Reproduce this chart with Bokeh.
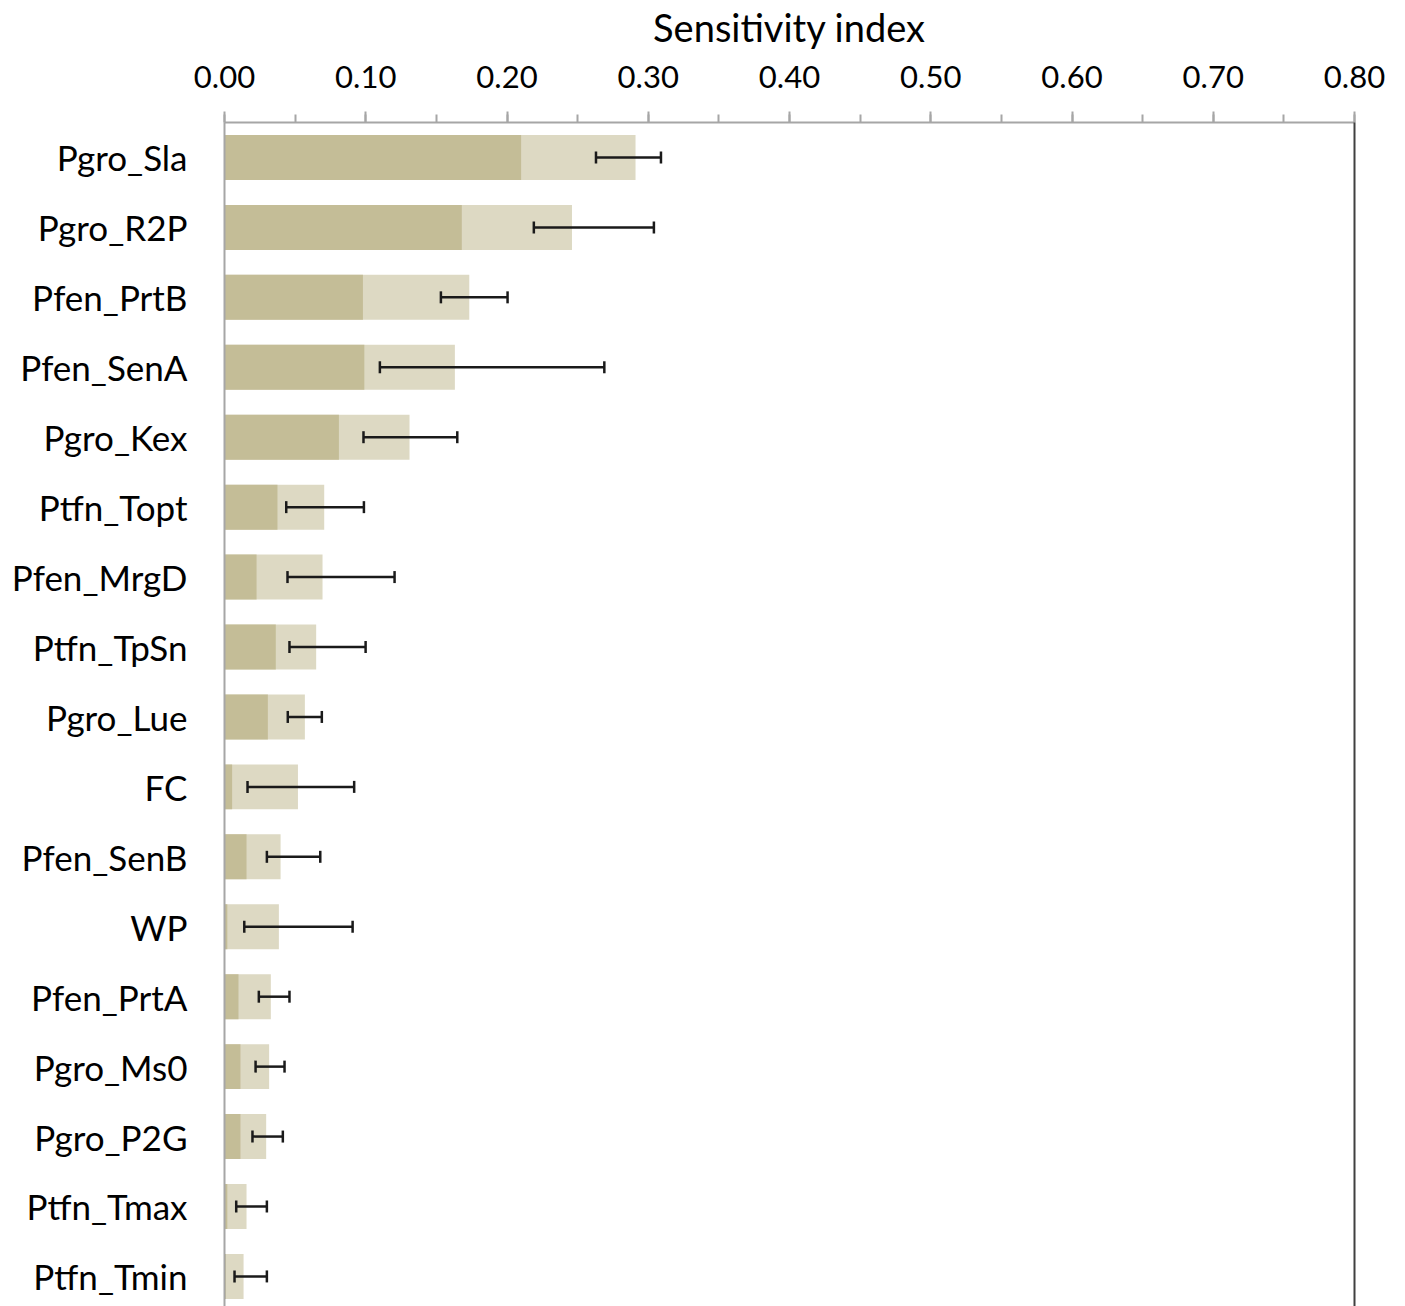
from bokeh.plotting import figure
from bokeh.models import (Range1d, FixedTicker, SingleIntervalTicker, NumeralTickFormatter,
                          LinearAxis, Whisker, TeeHead, ColumnDataSource)
from bokeh.embed import file_html
from bokeh.resources import INLINE

params = ["Pgro_Sla", "Pgro_R2P", "Pfen_PrtB", "Pfen_SenA", "Pgro_Kex", "Ptfn_Topt",
          "Pfen_MrgD", "Ptfn_TpSn", "Pgro_Lue", "FC", "Pfen_SenB", "WP", "Pfen_PrtA",
          "Pgro_Ms0", "Pgro_P2G", "Ptfn_Tmax", "Ptfn_Tmin"]
first_order = [0.210, 0.168, 0.098, 0.099, 0.081, 0.0375, 0.0227, 0.0363, 0.0307, 0.0054,
               0.0156, 0.002, 0.0099, 0.0113, 0.0113, 0.002, 0.001]
total_order = [0.291, 0.246, 0.1733, 0.1631, 0.131, 0.0706, 0.0694, 0.0649, 0.0569, 0.052,
               0.0397, 0.0385, 0.0328, 0.0316, 0.0295, 0.0156, 0.0135]
ci_low = [0.263, 0.219, 0.1532, 0.110, 0.0984, 0.0437, 0.0446, 0.046, 0.0448, 0.0163,
          0.030, 0.014, 0.0243, 0.022, 0.0198, 0.0083, 0.0071]
ci_high = [0.309, 0.304, 0.2004, 0.2689, 0.1648, 0.0987, 0.1204, 0.0999, 0.0689, 0.0918,
           0.0678, 0.0907, 0.046, 0.0425, 0.0413, 0.030, 0.030]
x_title = "Sensitivity index"

ys = list(range(len(params)))
FONT = "Lato"

p = figure(width=1405, height=1306, output_backend="svg", toolbar_location=None,
           x_range=Range1d(0, 0.8), y_range=Range1d(16.43, -0.5),
           x_axis_location="above", min_border_left=224, min_border_right=51,
           min_border_top=0, min_border_bottom=0)
p.outline_line_color = None
p.xgrid.visible = False
p.ygrid.visible = False
p.background_fill_color = "white"
p.border_fill_color = "white"

p.hbar(y=ys, right=total_order, left=0, height=0.643, color="#DDD9C3", line_color=None)
p.hbar(y=ys, right=first_order, left=0, height=0.643, color="#C4BD97", line_color=None)

src = ColumnDataSource(dict(y=ys, lo=ci_low, hi=ci_high))
w = Whisker(source=src, base="y", lower="lo", upper="hi", dimension="width",
            line_color="#1a1a1a", line_width=2.5, level="overlay",
            lower_head=TeeHead(size=12, line_color="#1a1a1a", line_width=2.5),
            upper_head=TeeHead(size=12, line_color="#1a1a1a", line_width=2.5))
p.add_layout(w)

xa = p.xaxis[0]
xa.ticker = SingleIntervalTicker(interval=0.1, num_minor_ticks=2)
xa.formatter = NumeralTickFormatter(format="0.00")
xa.axis_label = x_title
xa.axis_label_text_font = FONT
xa.axis_label_text_font_style = "normal"
xa.axis_label_text_font_size = "38px"
xa.axis_label_text_color = "black"
xa.axis_label_standoff = 13
xa.major_label_text_font = FONT
xa.major_label_text_font_size = "31px"
xa.major_label_text_color = "black"
xa.major_label_standoff = 24
xa.axis_line_color = "#A6A6A6"
xa.axis_line_width = 2
xa.major_tick_line_color = "#A6A6A6"
xa.major_tick_line_width = 2
xa.minor_tick_line_color = "#A6A6A6"
xa.minor_tick_line_width = 2
xa.major_tick_out = 11
xa.major_tick_in = 0
xa.minor_tick_out = 8
xa.minor_tick_in = 0

ya = p.yaxis[0]
ya.ticker = FixedTicker(ticks=ys)
ya.major_label_overrides = {i: s for i, s in enumerate(params)}
ya.major_label_text_font = FONT
ya.major_label_text_font_size = "35px"
ya.major_label_text_color = "black"
ya.major_label_standoff = 37
ya.major_tick_line_color = None
ya.minor_tick_line_color = None
ya.major_tick_out = 0
ya.axis_line_color = "#A6A6A6"
ya.axis_line_width = 2

ra = LinearAxis(ticker=FixedTicker(ticks=[]), major_label_text_font_size="0px",
                axis_line_color="#404040", axis_line_width=2,
                major_tick_line_color=None, minor_tick_line_color=None)
p.add_layout(ra, "right")

open("out.html", "w").write(file_html(p, INLINE))
